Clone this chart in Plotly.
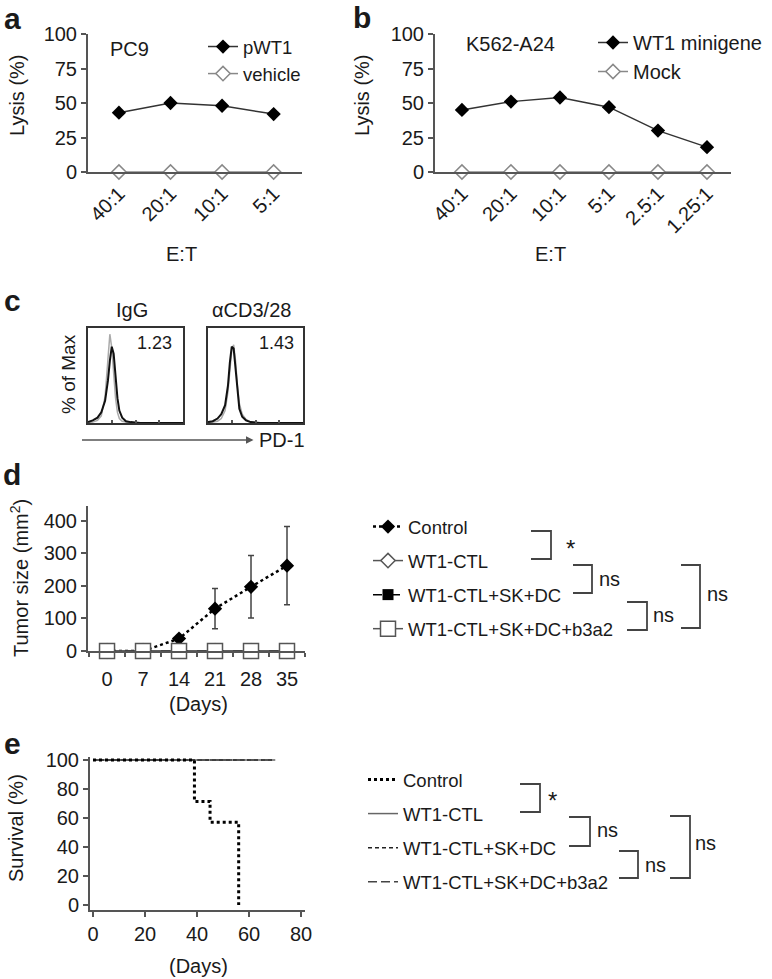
import plotly.graph_objects as go

W, H = 772, 979
def px(x): return x / W
def py(y): return 1 - y / H

FONT = "Liberation Sans, Arial, Helvetica, sans-serif"
TXT = "#1a1a1a"
AX = "#555555"

# ---------------- data ----------------
# Panel a
a_cats = ["40:1", "20:1", "10:1", "5:1"]
a_pwt1 = [43, 50, 48, 42]
a_vehicle = [0, 0, 0, 0]
# Panel b
b_cats = ["40:1", "20:1", "10:1", "5:1", "2.5:1", "1.25:1"]
b_wt1 = [45, 51, 54, 47, 30, 18]
b_mock = [0, 0, 0, 0, 0, 0]
# Panel c (histograms, % of max)
c_x = [0, 5, 10, 14, 18, 21, 23, 25, 27, 29, 31, 33, 36, 40, 45, 55, 70, 100]
c_igg_gray = [0, 1, 3, 8, 30, 72, 100, 85, 55, 28, 12, 5, 2, 1, 0, 0, 0, 0]
c_igg_black = [1, 3, 6, 12, 25, 48, 70, 86, 78, 52, 28, 14, 6, 2, 1, 0, 0, 0]
c_cd3_gray = [0, 1, 2, 5, 14, 35, 62, 82, 88, 70, 42, 22, 10, 4, 1, 0, 0, 0]
c_cd3_black = [1, 2, 5, 10, 20, 42, 68, 86, 84, 60, 34, 16, 7, 3, 1, 0, 0, 0]
c_titles = ["IgG", "\u03b1CD3/28"]
c_values = ["1.23", "1.43"]
# Panel d
d_days = [0, 7, 14, 21, 28, 35]
d_control = [0, 0, 38, 130, 197, 262]
d_control_err = [0, 0, 8, 62, 96, 120]
d_wt1ctl = [0, 0, 0, 0, 0, 0]
d_skdc = [0, 0, 0, 0, 0, 0]
d_b3a2 = [0, 0, 0, 0, 0, 0]
# Panel e
e_ctrl_t = [0, 39, 45, 56]
e_ctrl_s = [100, 71.4, 57.1, 0]
e_other_t = [0, 70]
e_other_s = [100, 100]
groups = ["Control", "WT1-CTL", "WT1-CTL+SK+DC", "WT1-CTL+SK+DC+b3a2"]

fig = go.Figure()

# ---------------- panel a ----------------
fig.add_trace(go.Scatter(x=a_cats, y=a_pwt1, name="pWT1", mode="lines+markers",
    line=dict(color="#333", width=1.5), marker=dict(symbol="diamond", size=11, color="black"),
    xaxis="x", yaxis="y", legend="legend", cliponaxis=False))
fig.add_trace(go.Scatter(x=a_cats, y=a_vehicle, name="vehicle", mode="lines+markers",
    line=dict(color="#888", width=1.5),
    marker=dict(symbol="diamond", size=11, color="white", line=dict(color="#888", width=1.5)),
    xaxis="x", yaxis="y", legend="legend", cliponaxis=False))

# ---------------- panel b ----------------
fig.add_trace(go.Scatter(x=b_cats, y=b_wt1, name="WT1 minigene", mode="lines+markers",
    line=dict(color="#333", width=1.5), marker=dict(symbol="diamond", size=11, color="black"),
    xaxis="x2", yaxis="y2", legend="legend2", cliponaxis=False))
fig.add_trace(go.Scatter(x=b_cats, y=b_mock, name="Mock", mode="lines+markers",
    line=dict(color="#888", width=1.5),
    marker=dict(symbol="diamond", size=11, color="white", line=dict(color="#888", width=1.5)),
    xaxis="x2", yaxis="y2", legend="legend2", cliponaxis=False))

# ---------------- panel c ----------------
for xa, ya, gray, black in [("x3", "y3", c_igg_gray, c_igg_black), ("x4", "y4", c_cd3_gray, c_cd3_black)]:
    fig.add_trace(go.Scatter(x=c_x, y=gray, mode="lines", line=dict(color="#aaa", width=1.5),
        xaxis=xa, yaxis=ya, showlegend=False))
    fig.add_trace(go.Scatter(x=c_x, y=black, mode="lines", line=dict(color="#111", width=2),
        xaxis=xa, yaxis=ya, showlegend=False))

# ---------------- panel d ----------------
fig.add_trace(go.Scatter(x=d_days, y=d_control, name=groups[0], mode="lines+markers",
    line=dict(color="black", width=2.5, dash="dot"),
    marker=dict(symbol="diamond", size=11, color="black"),
    error_y=dict(type="data", array=d_control_err, color="#444", thickness=1.5, width=3),
    xaxis="x5", yaxis="y5", legend="legend3", legendgroup="d1", cliponaxis=False))
fig.add_trace(go.Scatter(x=d_days, y=d_wt1ctl, name=groups[1], mode="lines+markers",
    line=dict(color="#555", width=1.5),
    marker=dict(symbol="diamond", size=11, color="white", line=dict(color="#555", width=1.5)),
    xaxis="x5", yaxis="y5", legend="legend3", legendgroup="d2", cliponaxis=False))
fig.add_trace(go.Scatter(x=d_days, y=d_skdc, name=groups[2], mode="lines+markers",
    line=dict(color="black", width=1.5, dash="dash"),
    marker=dict(symbol="square", size=11, color="black"),
    xaxis="x5", yaxis="y5", legend="legend3", legendgroup="d3", cliponaxis=False))
fig.add_trace(go.Scatter(x=d_days, y=d_b3a2, name=groups[3], mode="lines+markers",
    line=dict(color="#555", width=1.5),
    marker=dict(symbol="square", size=15, color="white", line=dict(color="#555", width=1.5)),
    xaxis="x5", yaxis="y5", legend="legend3", legendgroup="d4", cliponaxis=False))

# ---------------- panel e ----------------
fig.add_trace(go.Scatter(x=e_other_t, y=e_other_s, name=groups[1], mode="lines",
    line=dict(color="#666", width=1.5), legendrank=2,
    xaxis="x6", yaxis="y6", legend="legend4", legendgroup="e2", cliponaxis=False))
fig.add_trace(go.Scatter(x=e_other_t, y=e_other_s, name=groups[2], mode="lines",
    line=dict(color="#222", width=1.5, dash="4px,3px"), legendrank=3,
    xaxis="x6", yaxis="y6", legend="legend4", legendgroup="e3", cliponaxis=False))
fig.add_trace(go.Scatter(x=e_other_t, y=e_other_s, name=groups[3], mode="lines",
    line=dict(color="#444", width=1.5, dash="9px,4px"), legendrank=4,
    xaxis="x6", yaxis="y6", legend="legend4", legendgroup="e4", cliponaxis=False))
fig.add_trace(go.Scatter(x=e_ctrl_t, y=e_ctrl_s, name=groups[0], mode="lines",
    line=dict(color="black", width=3, dash="dot", shape="hv"), legendrank=1,
    xaxis="x6", yaxis="y6", legend="legend4", legendgroup="e1", cliponaxis=False))

# ---------------- axes ----------------
TF = dict(size=20, color=TXT, family=FONT)
def ax(**kw):
    base = dict(showline=True, linecolor=AX, linewidth=2, showgrid=False, zeroline=False,
                ticks="outside", tickcolor=AX, tickwidth=1.5, ticklen=5, tickfont=TF)
    base.update(kw)
    return base

lay = dict(
    xaxis=ax(domain=[px(88), px(302)], anchor="y", range=[-0.6, 3.55], ticks="", tickangle=-45),
    yaxis=ax(domain=[py(172), py(34)], anchor="x", range=[0, 100], tickvals=[0, 25, 50, 75, 100]),
    xaxis2=ax(domain=[px(435), px(731)], anchor="y2", range=[-0.55, 5.49], ticks="", tickangle=-45),
    yaxis2=ax(domain=[py(172), py(34)], anchor="x2", range=[0, 100], tickvals=[0, 25, 50, 75, 100]),
    xaxis3=ax(domain=[px(88), px(183)], anchor="y3", range=[0, 100], mirror=True, linewidth=1.5,
              linecolor="#333", ticks="inside", ticklen=3, tickvals=[25, 50, 75], showticklabels=False),
    yaxis3=ax(domain=[py(423), py(328)], anchor="x3", range=[0, 107], mirror=True, linewidth=1.5,
              linecolor="#333", ticks="", showticklabels=False),
    xaxis4=ax(domain=[px(208), px(303)], anchor="y4", range=[0, 100], mirror=True, linewidth=1.5,
              linecolor="#333", ticks="inside", ticklen=3, tickvals=[25, 50, 75], showticklabels=False),
    yaxis4=ax(domain=[py(423), py(328)], anchor="x4", range=[0, 107], mirror=True, linewidth=1.5,
              linecolor="#333", ticks="", showticklabels=False),
    xaxis5=ax(domain=[px(88), px(305)], anchor="y5", range=[-3.7, 38.5], tickvals=d_days, ticklen=9,
              tickcolor="rgba(0,0,0,0)",
              minor=dict(tick0=3.5, dtick=7, ticks="outside", ticklen=4, tickcolor=AX, tickwidth=1.5)),
    yaxis5=ax(domain=[py(651), py(506)], anchor="x5", range=[0, 445], tickvals=[0, 100, 200, 300, 400]),
    xaxis6=ax(domain=[px(90), px(305)], anchor="y6", range=[-1.15, 81.5], tickvals=[0, 20, 40, 60, 80]),
    yaxis6=ax(domain=[py(910), py(757)], anchor="x6", range=[-3.4, 102], tickvals=[0, 20, 40, 60, 80, 100]),
)

def leg(x, y, size, gap=0):
    return dict(x=px(x), y=py(y), xanchor="left", yanchor="top", bgcolor="rgba(0,0,0,0)",
                font=dict(size=size, color=TXT, family=FONT), itemwidth=30, tracegroupgap=gap,
                borderwidth=0)

lay["legend"] = leg(203, 28, 18.5)
lay["legend2"] = leg(593, 23, 20)
lay["legend3"] = leg(368, 508, 18.5, 7)
lay["legend4"] = leg(363, 761, 18.5, 7)

ann = []
def T(text, x, y, size=19, **kw):
    d = dict(text=text, x=px(x), y=py(y), xref="paper", yref="paper", showarrow=False,
             font=dict(size=size, color=TXT, family=FONT), xanchor="center", yanchor="middle")
    d.update(kw)
    ann.append(d)

# panel labels
for lab, x, y in [("a", 12, 18), ("b", 362, 17), ("c", 12, 300), ("d", 12, 474), ("e", 12, 743)]:
    T("<b>" + lab + "</b>", x, y, 30)

# panel a/b texts
T("Lysis (%)", 17, 96, 20, textangle=-90)
T("Lysis (%)", 362, 96, 20, textangle=-90)
T("PC9", 129, 49, 20)
T("K562-A24", 510, 44, 20)
T("E:T", 181, 254, 20)
T("E:T", 550, 254, 20)

# panel c texts
T(c_titles[0], 132, 310, 20)
T(c_titles[1], 251, 310, 20)
T(c_values[0], 154, 343, 18)
T(c_values[1], 276, 343, 18)
T("% of Max", 68, 374, 19, textangle=-90)
# PD-1 axis label with its arrow (head on the label side)
ann.append(dict(text="PD-1", x=px(82), y=py(440), xref="paper", yref="paper",
                ax=200, ay=0, showarrow=True, arrowside="start", startarrowhead=2,
                startarrowsize=1, arrowwidth=1.5, arrowcolor="#555", startstandoff=4,
                font=dict(size=20, color=TXT, family=FONT)))

# panel d texts
T("Tumor size (mm<sup>2</sup>)", 19, 578, 20, textangle=-90)
T("(Days)", 198, 704, 20)
# panel e texts
T("Survival (%)", 16, 828, 20, textangle=-90)
T("(Days)", 198, 966, 20)

# significance brackets
shapes = []
def bracket(x1, x2, y1, y2):
    shapes.append(dict(type="path", xref="paper", yref="paper",
        path=f"M {px(x1)},{py(y1)} L {px(x2)},{py(y1)} L {px(x2)},{py(y2)} L {px(x1)},{py(y2)}",
        line=dict(color="#444", width=1.8)))

# d
bracket(531, 551, 531, 559); T("*", 570, 548, 24)
bracket(573, 592, 565, 593); T("ns", 609, 579, 20)
bracket(627, 647, 602, 630); T("ns", 663, 615, 20)
bracket(681, 700, 565, 628); T("ns", 717, 594, 20)
# e
bracket(520, 540, 784, 812); T("*", 552, 800, 24)
bracket(569, 590, 817, 846); T("ns", 607, 830, 20)
bracket(619, 638, 851, 878); T("ns", 655, 865, 20)
bracket(670, 690, 816, 878); T("ns", 705, 843, 20)

fig.update_layout(**lay)
fig.update_layout(width=W, height=H, margin=dict(l=0, r=0, t=0, b=0, autoexpand=False),
                  paper_bgcolor="white", plot_bgcolor="white",
                  font=dict(family=FONT, color=TXT), showlegend=True,
                  annotations=ann, shapes=shapes)

fig.write_html("out.html", config={"displayModeBar": False},
               post_script="document.body.style.margin='0';")
